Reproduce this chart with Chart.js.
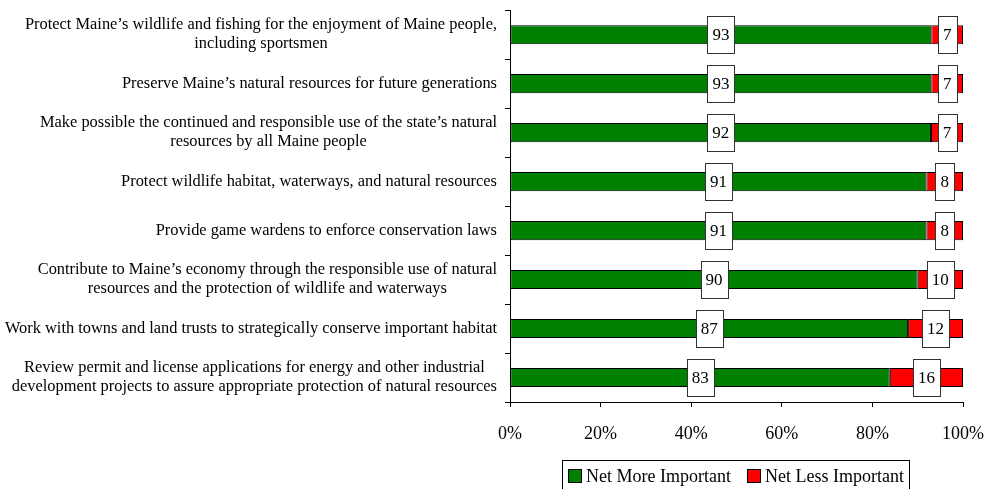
<!DOCTYPE html>
<html>
<head>
<meta charset="utf-8">
<title>Importance of agency activities</title>
<script src="https://cdn.jsdelivr.net/npm/chart.js@4.4.0/dist/chart.umd.min.js"></script>
<style>
  html, body { margin: 0; padding: 0; background: #fff; }
  #wrap { width: 990px; height: 489px; position: relative; }
</style>
</head>
<body>
<div id="wrap"><canvas id="importanceChart" width="990" height="489"></canvas></div>
<script>
var activities = [
    ["Protect Maine\u2019s wildlife and fishing for the enjoyment of Maine people,", "including sportsmen"],
    ["Preserve Maine\u2019s natural resources for future generations"],
    ["Make possible the continued and responsible use of the state\u2019s natural", "resources by all Maine people"],
    ["Protect wildlife habitat, waterways, and natural resources"],
    ["Provide game wardens to enforce conservation laws"],
    ["Contribute to Maine\u2019s economy through the responsible use of natural", "resources and the protection of wildlife and waterways"],
    ["Work with towns and land trusts to strategically conserve important habitat"],
    ["Review permit and license applications for energy and other industrial", "development projects to assure appropriate protection of natural resources"]
];
var moreImportant = [93, 93, 92, 91, 91, 90, 87, 83];
var lessImportant = [7, 7, 7, 8, 8, 10, 12, 16];
var percentTicks = [0, 20, 40, 60, 80, 100];

var serif = '"Liberation Serif", "Times New Roman", serif';

// 100% stacked: each row is scaled to its own total
function share(values, other) {
    return values.map(function (v, i) { return v / (v + other[i]) * 100; });
}

var valueBoxes = {
    id: 'valueBoxes',
    afterDatasetsDraw: function (chart) {
        var ctx = chart.ctx;
        ctx.save();
        ctx.font = '17px ' + serif;
        ctx.textAlign = 'center';
        ctx.textBaseline = 'middle';
        chart.data.datasets.forEach(function (ds, di) {
            chart.getDatasetMeta(di).data.forEach(function (bar, i) {
                var p = bar.getProps(['x', 'y', 'base'], true);
                var cx = (p.x + p.base) / 2;
                var text = String(ds.rawValues[i]);
                var w = ctx.measureText(text).width + 10;
                var h = 37;
                ctx.fillStyle = '#fff';
                ctx.fillRect(Math.round(cx - w / 2) + 0.5, Math.round(p.y - h / 2) + 0.5, Math.round(w), h);
                ctx.strokeStyle = '#333';
                ctx.lineWidth = 1;
                ctx.strokeRect(Math.round(cx - w / 2) + 0.5, Math.round(p.y - h / 2) + 0.5, Math.round(w), h);
                ctx.fillStyle = '#000';
                ctx.fillText(text, cx, p.y + 1);
            });
        });
        ctx.restore();
    }
};

// category labels: right-aligned block, lines centred inside the block
var categoryLabels = {
    id: 'categoryLabels',
    afterDraw: function (chart) {
        var ctx = chart.ctx;
        var yScale = chart.scales.y;
        var right = chart.chartArea.left - 13;
        var lineH = 19;
        ctx.save();
        ctx.font = '16.4px ' + serif;
        ctx.fillStyle = '#000';
        ctx.textAlign = 'center';
        ctx.textBaseline = 'middle';
        activities.forEach(function (lines, i) {
            var y = yScale.getPixelForTick(i);
            var w = Math.max.apply(null, lines.map(function (l) { return ctx.measureText(l).width; }));
            var cx = right - w / 2;
            var top = y - (lines.length - 1) * lineH / 2;
            lines.forEach(function (l, k) {
                ctx.fillText(l, cx, top + k * lineH);
            });
        });
        ctx.restore();
    }
};

var boxLegend = {
    id: 'boxLegend',
    afterDraw: function (chart) {
        var ctx = chart.ctx;
        var left = 562, top = 460, width = 347, height = 40;
        ctx.save();
        ctx.fillStyle = '#fff';
        ctx.fillRect(left + 0.5, top + 0.5, width, height);
        ctx.strokeStyle = '#000';
        ctx.lineWidth = 1;
        ctx.strokeRect(left + 0.5, top + 0.5, width, height);
        ctx.font = '18px ' + serif;
        ctx.textBaseline = 'middle';
        ctx.textAlign = 'left';
        var x = left + 6;
        var cy = top + 16;
        chart.data.datasets.forEach(function (ds) {
            ctx.fillStyle = ds.backgroundColor;
            ctx.fillRect(x + 0.5, cy - 6.5, 13, 13);
            ctx.strokeStyle = '#000';
            ctx.strokeRect(x + 0.5, cy - 6.5, 13, 13);
            ctx.fillStyle = '#000';
            ctx.fillText(ds.label, x + 18, cy + 1);
            x += 18 + ctx.measureText(ds.label).width + 16;
        });
        ctx.restore();
    }
};

var ctx = document.getElementById('importanceChart').getContext('2d');
new Chart(ctx, {
    type: 'bar',
    data: {
        labels: activities.map(function (a) { return a.join(' '); }),
        datasets: [{
            label: 'Net More Important',
            data: share(moreImportant, lessImportant),
            rawValues: moreImportant,
            backgroundColor: '#008000',
            borderColor: '#000',
            borderWidth: 1,
            borderSkipped: false
        }, {
            label: 'Net Less Important',
            data: share(lessImportant, moreImportant),
            rawValues: lessImportant,
            backgroundColor: '#ff0000',
            borderColor: '#000',
            borderWidth: 1,
            borderSkipped: false
        }]
    },
    options: {
        indexAxis: 'y',
        responsive: false,
        animation: false,
        devicePixelRatio: 1,
        layout: { padding: { left: 0, right: 27, top: 8, bottom: 0 } },
        datasets: { bar: { categoryPercentage: 1, barPercentage: 0.39 } },
        plugins: {
            legend: { display: false },
            tooltip: { enabled: false }
        },
        scales: {
            x: {
                stacked: true,
                min: 0,
                max: 100,
                afterBuildTicks: function (scale) {
                    scale.ticks = percentTicks.map(function (v) { return { value: v }; });
                },
                afterFit: function (scale) {
                    scale.height = 87;
                    scale.paddingLeft = 0;
                    scale.paddingRight = 0;
                },
                grid: { drawOnChartArea: false, drawTicks: true, tickLength: 5, color: '#000' },
                border: { color: '#000' },
                ticks: {
                    padding: 16,
                    color: '#000',
                    font: { family: serif, size: 18 },
                    callback: function (v) { return v + '%'; }
                }
            },
            y: {
                stacked: true,
                afterFit: function (scale) { scale.width = 510; },
                grid: { drawOnChartArea: false, drawTicks: true, tickLength: 5, color: '#000', offset: true },
                border: { color: '#000' },
                ticks: { callback: function () { return ''; } }
            }
        }
    },
    plugins: [valueBoxes, categoryLabels, boxLegend]
});
</script>
</body>
</html>
